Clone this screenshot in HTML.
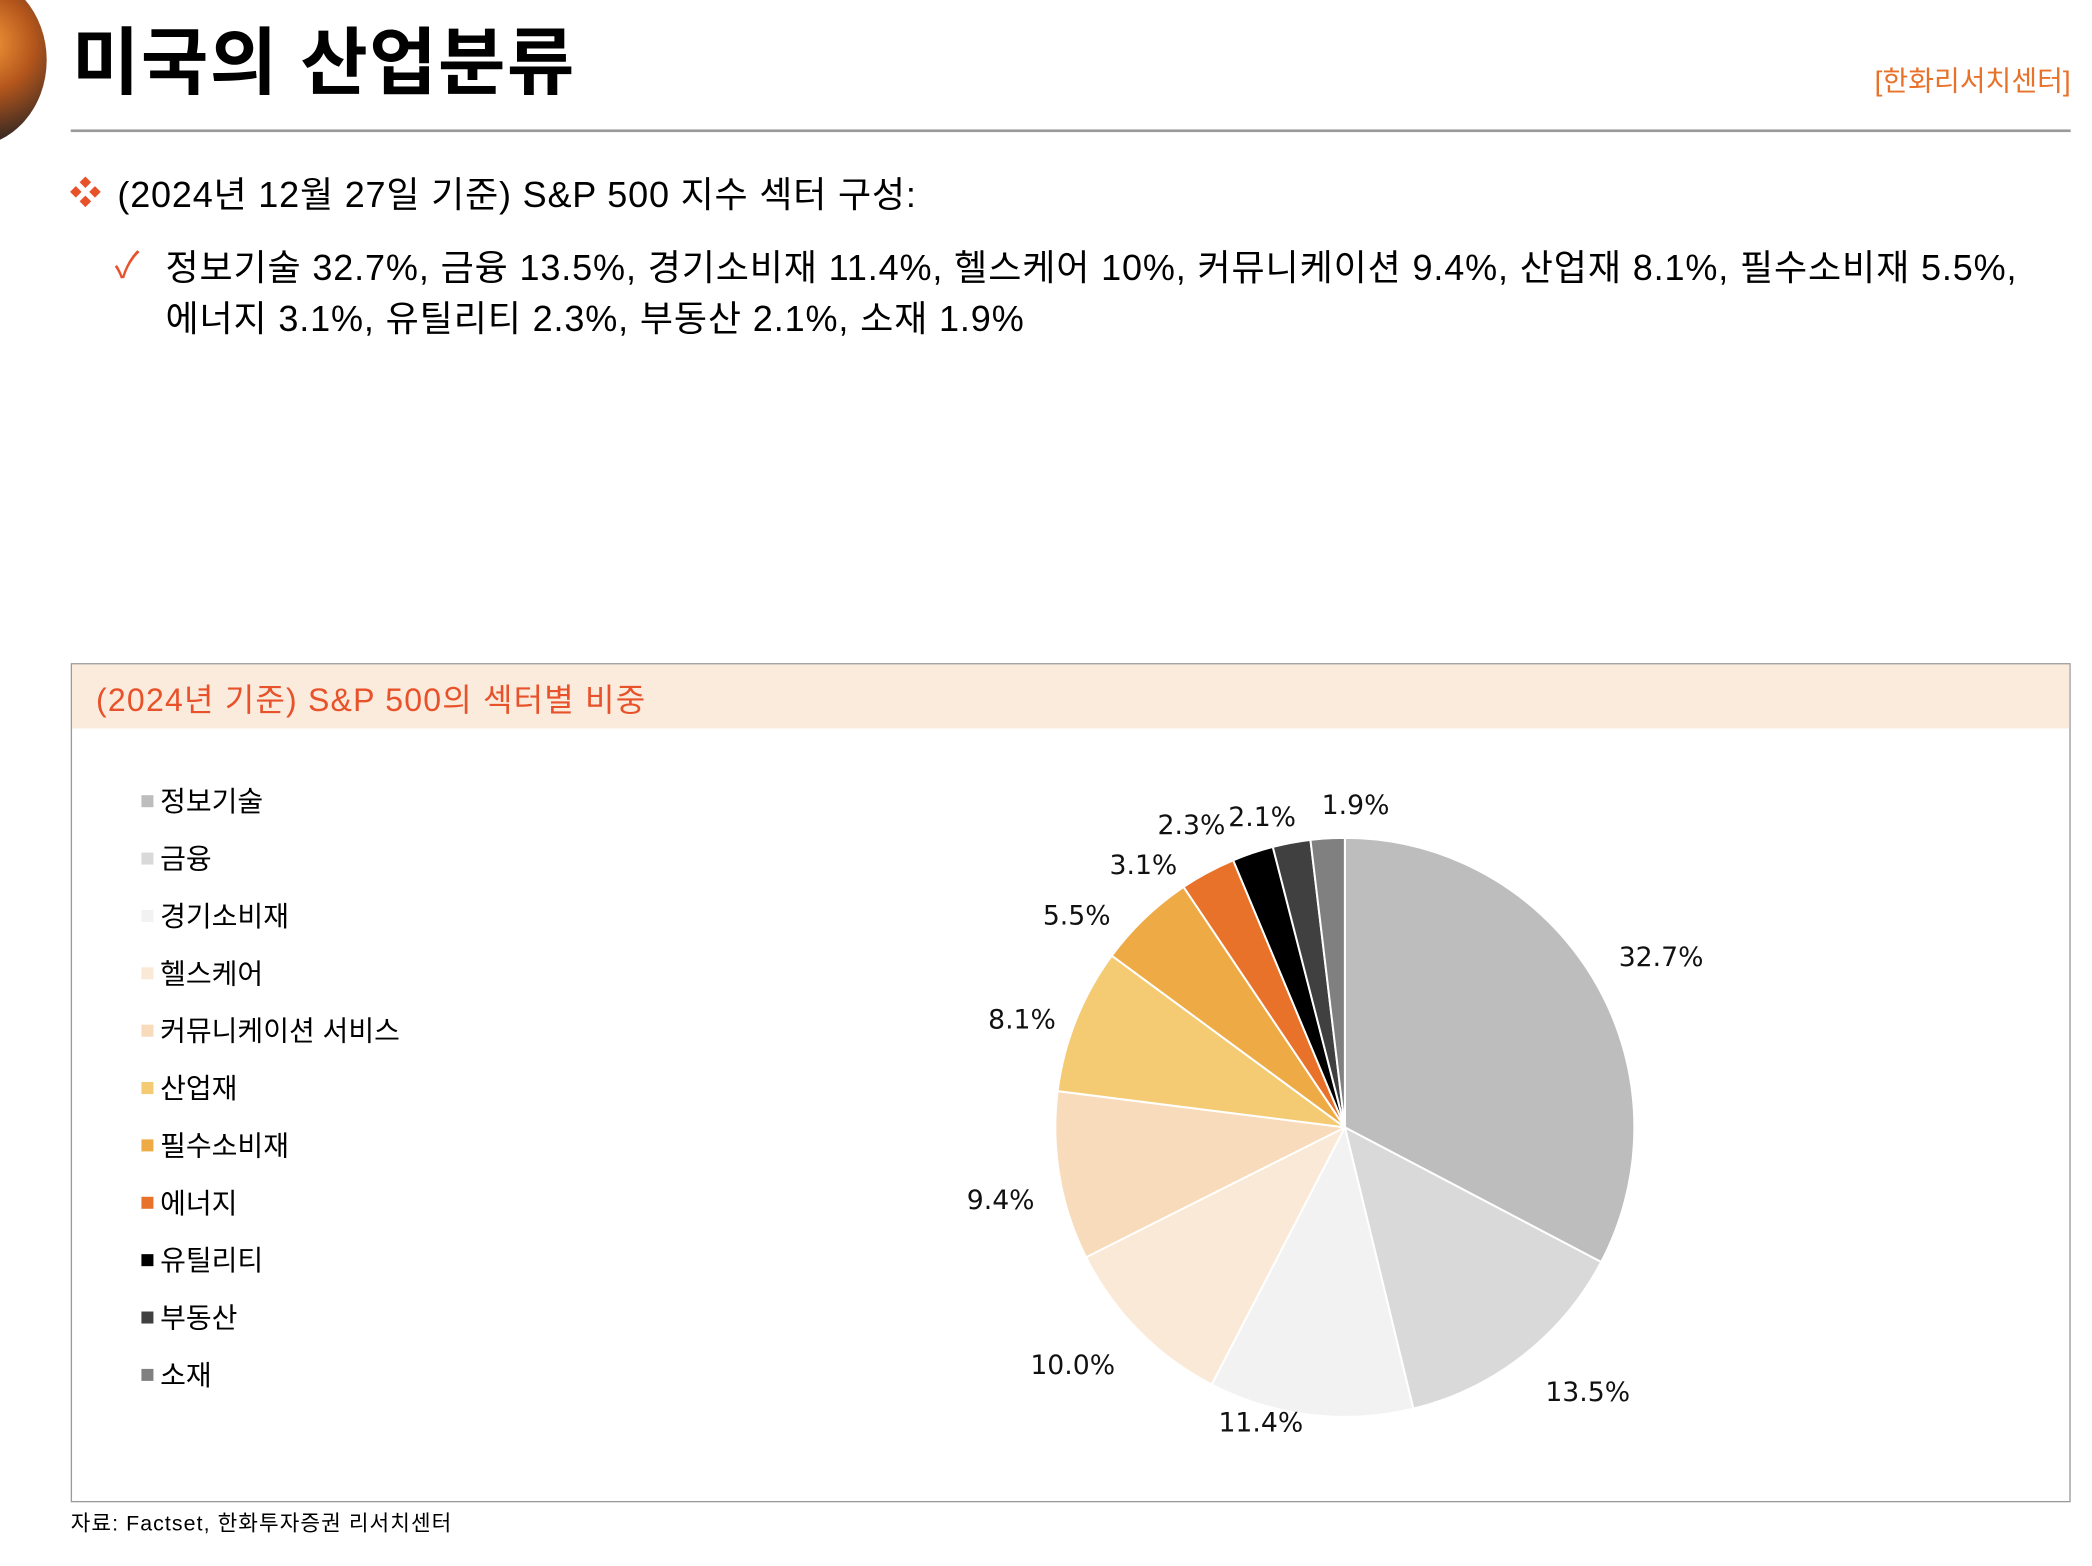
<!DOCTYPE html>
<html><head><meta charset="utf-8"><style>
html,body{margin:0;padding:0;background:#fff;overflow:hidden}
body{width:2092px;height:1566px;position:relative}
#w{position:absolute;left:0;top:0;width:1568px;height:1174px;transform:scale(1.3342);transform-origin:0 0;font-family:"Liberation Sans","Noto Sans CJK KR",sans-serif;color:#000}
.a{position:absolute;white-space:nowrap;line-height:1}
.leg .a{font-size:21px}
.sq{position:absolute;width:9px;height:9px}
</style></head><body><div id="w">
<div style="position:absolute;left:-80px;top:-20px;width:115px;height:130px;border-radius:50%;background:radial-gradient(circle at 60% 40%,#f59a3a 0%,#b4561c 35%,#3a2a22 70%,#1b2630 100%)"></div>
<div class="a" style="left:54px;top:20px;font-size:55px;font-weight:bold;letter-spacing:1px">미국의 산업분류</div>
<div class="a" style="right:16px;top:51px;font-size:21px;color:#E8722A">[한화리서치센터]</div>
<div style="position:absolute;left:53px;top:97px;width:1499px;height:2px;background:#9a9a9a"></div>
<div class="a" style="left:52px;top:134px;font-size:24px;color:#E8522A">❖</div>
<div class="a" style="left:88px;top:133px;font-size:27px;letter-spacing:0.6px">(2024년 12월 27일 기준) S&amp;P 500 지수 섹터 구성:</div>
<div class="a" style="left:86px;top:186px;font-size:27px;color:#E8522A">✓</div>
<div class="a" style="left:124px;top:188px;font-size:27px;letter-spacing:0.65px">정보기술 32.7%, 금융 13.5%, 경기소비재 11.4%, 헬스케어 10%, 커뮤니케이션 9.4%, 산업재 8.1%, 필수소비재 5.5%,</div>
<div class="a" style="left:124px;top:226px;font-size:27px;letter-spacing:0.65px">에너지 3.1%, 유틸리티 2.3%, 부동산 2.1%, 소재 1.9%</div>
<div style="position:absolute;left:53px;top:497px;width:1497px;height:627px;border:1px solid #9a9a9a"></div>
<div style="position:absolute;left:54px;top:498px;width:1497px;height:48px;background:#FBEBDD"></div>
<div class="a" style="left:72px;top:514px;font-size:24px;color:#E8522A;letter-spacing:0.9px">(2024년 기준) S&amp;P 500의 섹터별 비중</div>
<div class="leg">
<div class="sq" style="left:106px;top:596px;background:#BDBDBD"></div><div class="a" style="left:120px;top:591px">정보기술</div>
<div class="sq" style="left:106px;top:639px;background:#D9D9D9"></div><div class="a" style="left:120px;top:634px">금융</div>
<div class="sq" style="left:106px;top:682px;background:#F2F2F2"></div><div class="a" style="left:120px;top:677px">경기소비재</div>
<div class="sq" style="left:106px;top:725px;background:#FBE9D7"></div><div class="a" style="left:120px;top:720px">헬스케어</div>
<div class="sq" style="left:106px;top:768px;background:#F8DBBA"></div><div class="a" style="left:120px;top:763px">커뮤니케이션 서비스</div>
<div class="sq" style="left:106px;top:811px;background:#F4CB72"></div><div class="a" style="left:120px;top:806px">산업재</div>
<div class="sq" style="left:106px;top:854px;background:#EEAB45"></div><div class="a" style="left:120px;top:849px">필수소비재</div>
<div class="sq" style="left:106px;top:897px;background:#E8722A"></div><div class="a" style="left:120px;top:892px">에너지</div>
<div class="sq" style="left:106px;top:940px;background:#000"></div><div class="a" style="left:120px;top:935px">유틸리티</div>
<div class="sq" style="left:106px;top:983px;background:#404040"></div><div class="a" style="left:120px;top:978px">부동산</div>
<div class="sq" style="left:106px;top:1026px;background:#808080"></div><div class="a" style="left:120px;top:1021px">소재</div>
</div>
<svg style="position:absolute;left:0;top:0" width="1568" height="1174" viewBox="0 0 1568 1174">
<g stroke="#fff" stroke-width="1.5" stroke-linejoin="round">
<path d="M1008 845 L1008 628 A217 217 0 0 1 1200.1 945.9Z" fill="#BDBDBD"/>
<path d="M1008 845 L1200.1 945.9 A217 217 0 0 1 1059.3 1055.8Z" fill="#D9D9D9"/>
<path d="M1008 845 L1059.3 1055.8 A217 217 0 0 1 908.2 1037.7Z" fill="#F2F2F2"/>
<path d="M1008 845 L908.2 1037.7 A217 217 0 0 1 814 942.3Z" fill="#FBE9D7"/>
<path d="M1008 845 L814 942.3 A217 217 0 0 1 792.7 817.8Z" fill="#F8DBBA"/>
<path d="M1008 845 L792.7 817.8 A217 217 0 0 1 833.3 716.3Z" fill="#F4CB72"/>
<path d="M1008 845 L833.3 716.3 A217 217 0 0 1 887.1 664.8Z" fill="#EEAB45"/>
<path d="M1008 845 L887.1 664.8 A217 217 0 0 1 924.3 644.8Z" fill="#E8722A"/>
<path d="M1008 845 L924.3 644.8 A217 217 0 0 1 954 634.8Z" fill="#000"/>
<path d="M1008 845 L954 634.8 A217 217 0 0 1 982.2 629.5Z" fill="#404040"/>
<path d="M1008 845 L982.2 629.5 A217 217 0 0 1 1008 628Z" fill="#808080"/>
</g>
<g font-family="'DejaVu Sans','Liberation Sans',sans-serif" font-size="20" text-anchor="middle" fill="#111">
<text x="1245" y="724">32.7%</text>
<text x="1190" y="1050">13.5%</text>
<text x="945" y="1073">11.4%</text>
<text x="804" y="1030">10.0%</text>
<text x="750" y="906">9.4%</text>
<text x="766" y="771">8.1%</text>
<text x="807" y="693">5.5%</text>
<text x="857" y="655">3.1%</text>
<text x="893" y="625">2.3%</text>
<text x="946" y="619">2.1%</text>
<text x="1016" y="610">1.9%</text>
</g>
</svg>
<div class="a" style="left:53px;top:1135px;font-size:16px;letter-spacing:0.8px">자료: Factset, 한화투자증권 리서치센터</div>
</div></body></html>
